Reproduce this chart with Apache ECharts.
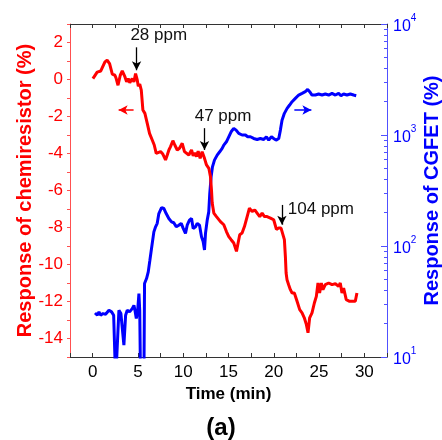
<!DOCTYPE html>
<html>
<head>
<meta charset="utf-8">
<script src="https://cdn.jsdelivr.net/npm/echarts@6/dist/echarts.min.js"></script>
<style>
html,body{margin:0;padding:0;background:#fff;}
#chart{width:442px;height:440px;}
</style>
</head>
<body>
<div id="chart"></div>
<script>
// ---- data ----
const redTime = [0.03,0.5,0.9,1.07,1.36,1.6,1.87,2.17,2.46,2.6,2.8,3.05,3.27,3.57,3.75,3.93,4.1,4.37,4.56,4.74,4.93,5.04,5.2,5.37,5.55,5.77,6.03,6.28,6.58,6.8,7.02,7.24,7.5,7.75,8.05,8.24,8.42,8.6,8.86,9.07,9.34,9.59,9.89,10.14,10.36,10.62,10.92,11.1,11.28,11.47,11.65,11.87,12.09,12.35,12.57,12.83,13.01,13.12,13.2,13.38,13.67,14.11,14.48,14.77,15.03,15.29,15.58,15.88,16.06,16.24,16.5,16.76,17.06,17.31,17.61,17.9,18.16,18.45,18.71,18.97,19.26,19.63,19.99,20.29,20.54,20.8,21.02,21.17,21.28,21.36,21.46,21.64,21.83,22.02,22.27,22.57,22.86,23.12,23.37,23.6,23.78,23.96,24.22,24.48,24.7,24.88,25.06,25.25,25.43,25.69,26.06,26.43,26.8,27.16,27.34,27.53,27.71,28.0,28.37,28.74,29.0,29.18];
const redResp = [0.05,0.4,0.46,0.36,0.95,1.04,0.86,0.29,0.23,0.05,-0.31,0.23,0.46,0.14,-0.13,0.05,-0.18,0.05,-0.13,0.32,-0.04,-0.36,-0.25,-0.58,-1.65,-1.83,-2.37,-2.91,-3.27,-3.54,-3.99,-4.08,-3.9,-4.03,-4.35,-4.08,-3.81,-3.63,-3.31,-3.54,-3.81,-3.72,-3.45,-3.9,-3.81,-4.08,-3.81,-4.13,-3.96,-4.17,-3.87,-4.26,-3.9,-4.26,-4.62,-4.8,-5.25,-5.97,-6.68,-7.22,-7.41,-7.68,-7.85,-8.22,-8.49,-8.66,-8.84,-9.29,-8.84,-8.39,-8.3,-7.95,-7.41,-6.95,-7.14,-7.05,-7.22,-7.41,-7.22,-7.41,-7.41,-7.49,-7.58,-8.1,-8.03,-8.03,-8.12,-8.66,-9.56,-10.46,-10.82,-11.09,-11.36,-11.54,-11.54,-11.99,-12.44,-12.61,-12.88,-13.25,-13.69,-12.88,-12.61,-12.08,-11.72,-11.0,-11.54,-11.0,-11.36,-11.09,-11.0,-11.09,-11.04,-11.18,-11.0,-11.54,-11.27,-11.9,-11.99,-11.99,-11.99,-11.54];

const blueTime = [0.26,0.52,0.7,0.88,1.14,1.43,1.8,2.09,2.32,2.54,2.72,2.9,3.12,3.45,3.64,3.82,4.08,4.37,4.56,4.67,4.82,4.95,5.11,5.2,5.29,5.48,5.66,5.73,5.95,6.14,6.32,6.5,6.76,6.95,7.13,7.31,7.61,7.86,8.12,8.41,8.71,8.96,9.23,9.51,9.78,10.0,10.25,10.44,10.69,10.92,11.1,11.36,11.54,11.8,12.02,12.2,12.35,12.46,12.65,12.82,12.93,13.08,13.23,13.45,13.75,14.03,14.3,14.48,14.77,15.03,15.29,15.58,15.84,16.13,16.5,16.87,17.12,17.42,17.78,18.16,18.52,18.89,19.18,19.44,19.74,19.99,20.25,20.36,20.55,20.73,20.91,21.17,21.47,21.75,22.02,22.38,22.75,23.12,23.48,23.74,23.96,24.22,24.59,24.95,25.33,25.69,26.06,26.43,26.8,27.16,27.42,27.71,28.08,28.45,28.81,29.1];
const blueResp = [24.9,23.8,25.5,23.8,24.6,24.3,26.4,25.5,23.8,6,6,26.4,24.6,12.8,23.8,26.4,25.5,27.3,29.2,26.4,22.2,25,37.3,26,6,6,6,45.9,50.9,58.5,74.5,95.1,134,149,160,196,222,218,196,177,165,162,149,154,160,144,130,154,171,177,144,149,160,154,121,110,92,130,171,203,297,420,516,594,659,706,757,811,869,964,1069,1148,1107,1033,1000,1000,964,964,931,912,931,912,964,899,964,931,899,899,931,1107,1361,1567,1738,1862,1995,2138,2291,2371,2455,2576,2455,2291,2291,2339,2291,2339,2291,2371,2291,2371,2259,2339,2291,2339,2291,2259];

const annTexts = ['28 ppm', '47 ppm', '104 ppm'];
const annTextTime = [7.3, 14.4, 25.2];
const annTextResp = [2.39, -1.98, -6.99];
const arrowTime = [4.85, 12.35, 20.9];
const arrowTop = [1.74, -2.63, -6.78];
const arrowTip = [0.5, -3.81, -7.85];
const leftArrow = [[4.52, -1.65], [2.87, -1.65]];
const rightArrow = [[22.27, -1.65], [24.15, -1.65]];
const minorLogTicks = [20,30,40,50,60,70,80,90,200,300,400,500,600,700,800,900,2000,3000,4000,5000,6000,7000,8000,9000];

const FONT = 'Liberation Sans, Arial, sans-serif';
const RED = '#ff0000', BLUE = '#0000ff';

const chart = echarts.init(document.getElementById('chart'), null, {renderer: 'canvas'});

const arrowLines = arrowTime.map((t, i) => [
  {coord: [t, arrowTop[i]]},
  {coord: [t, arrowTip[i]]}
]);
arrowLines.push([{coord: leftArrow[0], lineStyle: {color: RED, width: 1.5}}, {coord: leftArrow[1]}]);
arrowLines.push([{coord: rightArrow[0], lineStyle: {color: BLUE, width: 1.5}}, {coord: rightArrow[1]}]);

const option = {
  animation: false,
  backgroundColor: '#fff',
  textStyle: {fontFamily: FONT},
  title: {
    text: '(a)', left: 'center', top: 411,
    textStyle: {fontFamily: FONT, fontSize: 24, fontWeight: 'bold', color: '#000'}
  },
  grid: {left: 70, right: 55, top: 24, bottom: 83, containLabel: false, outerBoundsMode: 'none'},
  xAxis: [{
    type: 'value', position: 'bottom', min: -2.5, max: 32.5, interval: 2.5,
    name: 'Time (min)', nameLocation: 'middle', nameGap: 28,
    nameTextStyle: {fontFamily: FONT, fontSize: 17, fontWeight: 'bold', color: '#000'},
    axisLine: {onZero: false, lineStyle: {color: '#333', width: 1}},
    axisTick: {inside: true, length: 4, lineStyle: {color: '#333'}},
    axisLabel: {fontFamily: FONT, fontSize: 17, color: '#000', margin: 7,
      formatter: v => (v >= 0 && v <= 30 && Math.abs(v % 5) < 1e-9) ? String(v) : ''},
    splitLine: {show: false}
  }, {
    type: 'value', position: 'top', min: -2.5, max: 32.5, interval: 2.5,
    axisLine: {onZero: false, lineStyle: {color: '#333', width: 1}},
    axisTick: {inside: true, length: 4, lineStyle: {color: '#333'}},
    axisLabel: {show: false},
    splitLine: {show: false}
  }],
  yAxis: [{
    type: 'value', position: 'left', min: -15, max: 3, interval: 1,
    name: 'Response of chemiresistor (%)', nameLocation: 'middle', nameGap: 35,
    nameMoveOverlap: false,
    nameTextStyle: {fontFamily: FONT, fontSize: 20, fontWeight: 'bold', color: RED},
    axisLine: {onZero: false, lineStyle: {color: '#ff5050', width: 1}},
    axisTick: {inside: false, length: 3, lineStyle: {color: '#ff5050'}},
    axisLabel: {fontFamily: FONT, fontSize: 17, color: RED, margin: 7,
      formatter: v => (Math.abs(v % 2) < 1e-9) ? String(v) : ''},
    splitLine: {show: false}
  }, {
    type: 'log', position: 'right', min: 10, max: 10000, logBase: 10, interval: 1,
    name: 'Response of CGFET (%)', nameLocation: 'middle', nameGap: 35,
    nameMoveOverlap: false,
    nameTextStyle: {fontFamily: FONT, fontSize: 20, fontWeight: 'bold', color: BLUE},
    axisLine: {onZero: false, lineStyle: {color: '#5050ff', width: 1}},
    axisTick: {inside: true, length: 6, lineStyle: {color: '#5050ff'}},
    axisLabel: {fontFamily: FONT, fontSize: 16, color: BLUE, margin: 6,
      formatter: v => '{b|10}{s|' + Math.round(Math.log10(v)) + '}',
      rich: {
        b: {fontFamily: FONT, fontSize: 16, color: BLUE, verticalAlign: 'bottom', lineHeight: 22},
        s: {fontFamily: FONT, fontSize: 10, color: BLUE, verticalAlign: 'top', lineHeight: 10}
      }},
    splitLine: {show: false}
  }, {
    type: 'log', position: 'right', min: 10, max: 10000, logBase: 10,
    axisLine: {show: false, onZero: false},
    axisTick: {inside: true, length: 3, customValues: minorLogTicks, lineStyle: {color: '#5050ff'}},
    axisLabel: {show: false},
    splitLine: {show: false}
  }],
  series: [{
    name: 'CGFET', type: 'line', xAxisIndex: 0, yAxisIndex: 1,
    data: blueTime.map((t, i) => [t, blueResp[i]]),
    showSymbol: false, symbol: 'none', clip: true,
    lineStyle: {color: BLUE, width: 3}, z: 2
  }, {
    name: 'chemiresistor', type: 'line', xAxisIndex: 0, yAxisIndex: 0,
    data: redTime.map((t, i) => [t, redResp[i]]),
    showSymbol: false, symbol: 'none', clip: true,
    lineStyle: {color: RED, width: 3}, z: 3,
    markLine: {
      silent: true, symbol: ['none', 'arrow'], symbolSize: [7, 9],
      label: {show: false},
      lineStyle: {color: '#000', width: 1.3, type: 'solid'},
      data: arrowLines
    },
    markPoint: {
      silent: true, symbol: 'rect', symbolSize: 1,
      itemStyle: {color: 'rgba(0,0,0,0)'},
      label: {show: true, position: 'inside', fontFamily: FONT, fontSize: 17, color: '#111',
        formatter: p => p.name},
      data: annTexts.map((s, i) => ({name: s, coord: [annTextTime[i], annTextResp[i]]}))
    }
  }]
};
chart.setOption(option);
</script>
</body>
</html>
